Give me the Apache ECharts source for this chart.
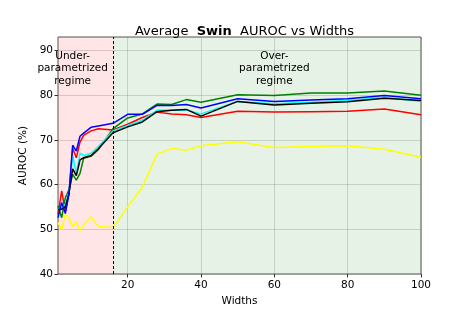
<!DOCTYPE html>
<html><head><meta charset="utf-8">
<script src="https://cdn.jsdelivr.net/npm/echarts@6/dist/echarts.min.js"></script>
<style>html,body{margin:0;padding:0;background:#fff}#c{width:468px;height:312px}</style>
</head><body><div id="c"></div>
<script>
const widths = [1,2,3,4,5,6,7,8,10,12,16,20,24,28,32,36,40,50,60,70,80,90,100];
const blueVals   = [52.6,56.0,53.5,58.0,68.8,67.5,70.8,71.5,72.8,73.1,73.7,75.7,75.7,77.7,77.7,77.9,77.1,79.2,78.6,78.9,79.2,79.9,79.2];
const redVals    = [53.3,58.6,54.0,58.0,68.1,66.0,69.5,71.0,72.0,72.5,72.2,73.5,75.0,76.2,75.8,75.6,75.0,76.4,76.2,76.3,76.4,76.9,75.6];
const cyanVals   = [54.5,54.8,55.6,58.2,66.5,62.5,67.0,66.5,67.0,68.5,72.0,73.2,74.4,76.6,76.6,76.7,75.8,78.6,78.1,78.4,78.8,79.5,78.6];
const blackVals  = [54.5,54.5,55.0,58.0,63.5,62.0,65.5,66.0,66.5,68.0,71.6,72.9,74.0,76.3,76.6,76.8,75.3,78.6,77.8,78.2,78.5,79.3,78.8];
const greenVals  = [55.2,52.6,57.0,58.9,62.3,61.0,62.5,65.9,66.3,67.8,72.5,74.9,75.8,78.0,77.9,79.0,78.4,80.1,79.9,80.5,80.5,80.9,80.0];
const yellowVals = [51.5,49.9,53.3,52.6,50.6,51.7,49.7,51.0,52.8,50.6,50.4,55.0,59.4,66.8,68.1,67.7,68.7,69.6,68.3,68.5,68.7,67.9,66.1];
const xTicks = [20,40,60,80,100];
const yTicks = [40,50,60,70,80,90];
const boundary = 16;

const pair = v => widths.map((w,i)=>[w,v[i]]);
const font = 'DejaVu Sans';
function mkLine(name, color, vals, extra){
  return Object.assign({name, type:'line', data: pair(vals), symbol:'none', smooth:false,
    lineStyle:{color, width:1.5}, itemStyle:{color}, animation:false}, extra||{});
}
const chart = echarts.init(document.getElementById('c'), null, {renderer:'canvas'});
chart.setOption({
  animation:false,
  title:{
    text:'{n|Average  }{b|Swin}{n|  AUROC vs Widths}',
    left: 239.5, textAlign:'center', top: 20,
    textStyle:{fontWeight:'normal',fontFamily:font,fontSize:13,color:'#000',
      rich:{n:{fontFamily:font,fontSize:13,fontWeight:'normal',color:'#000'},b:{fontFamily:font,fontSize:13,fontWeight:'bold',color:'#000'}}}
  },
  grid:{left:58,right:47,top:37,bottom:35,show:true,borderColor:'#555',borderWidth:1,backgroundColor:'transparent'},
  xAxis:{type:'value',min:1,max:100,
    name:'Widths',nameLocation:'middle',nameGap:22,nameTextStyle:{fontFamily:font,fontSize:10.5,color:'#000'},
    axisLine:{show:false},
    axisTick:{show:true,length:3.5,lineStyle:{color:'#333'},customValues:xTicks},
    axisLabel:{fontFamily:font,fontSize:10.5,color:'#000',margin:6,customValues:xTicks},
    splitLine:{show:true,lineStyle:{color:'rgba(128,128,128,0.3)',width:1}}
  },
  yAxis:{type:'value',min:40,max:93,
    name:'AUROC (%)',nameLocation:'middle',nameGap:24,nameRotate:90,nameTextStyle:{fontFamily:font,fontSize:10.5,color:'#000'},
    axisLine:{show:false},
    axisTick:{show:true,length:3.5,lineStyle:{color:'#333'},customValues:yTicks},
    axisLabel:{fontFamily:font,fontSize:10.5,color:'#000',margin:5,customValues:yTicks},
    splitLine:{show:true,lineStyle:{color:'rgba(128,128,128,0.3)',width:1}}
  },
  series:[
    mkLine('yellow','#ffff00',yellowVals,{
      markArea:{silent:true,data:[
        [{xAxis:1,itemStyle:{color:'rgba(255,0,0,0.1)'}},{xAxis:boundary}],
        [{xAxis:boundary,itemStyle:{color:'rgba(0,128,0,0.1)'}},{xAxis:100}]
      ]},
      markLine:{silent:true,symbol:'none',label:{show:false},lineStyle:{color:'#000',type:[3,2],width:1},data:[{xAxis:boundary}]},
      markPoint:{silent:true,symbol:'circle',symbolSize:0,
        label:{show:true,position:'inside',fontFamily:font,fontSize:10.5,color:'#000',lineHeight:12.5,align:'center',verticalAlign:'middle'},
        data:[
          {coord:[5,85.9],value:'Under-\nparametrized\nregime',label:{formatter:'Under-\nparametrized\nregime'}},
          {coord:[60,86.0],value:'Over-\nparametrized\nregime',label:{formatter:'Over-\nparametrized\nregime'}}
        ]}
    }),
    mkLine('red','#ff0000',redVals),
    mkLine('green','#008000',greenVals),
    mkLine('cyan','#00ffff',cyanVals),
    mkLine('black','#000000',blackVals),
    mkLine('blue','#0000ff',blueVals)
  ]
});
</script></body></html>
